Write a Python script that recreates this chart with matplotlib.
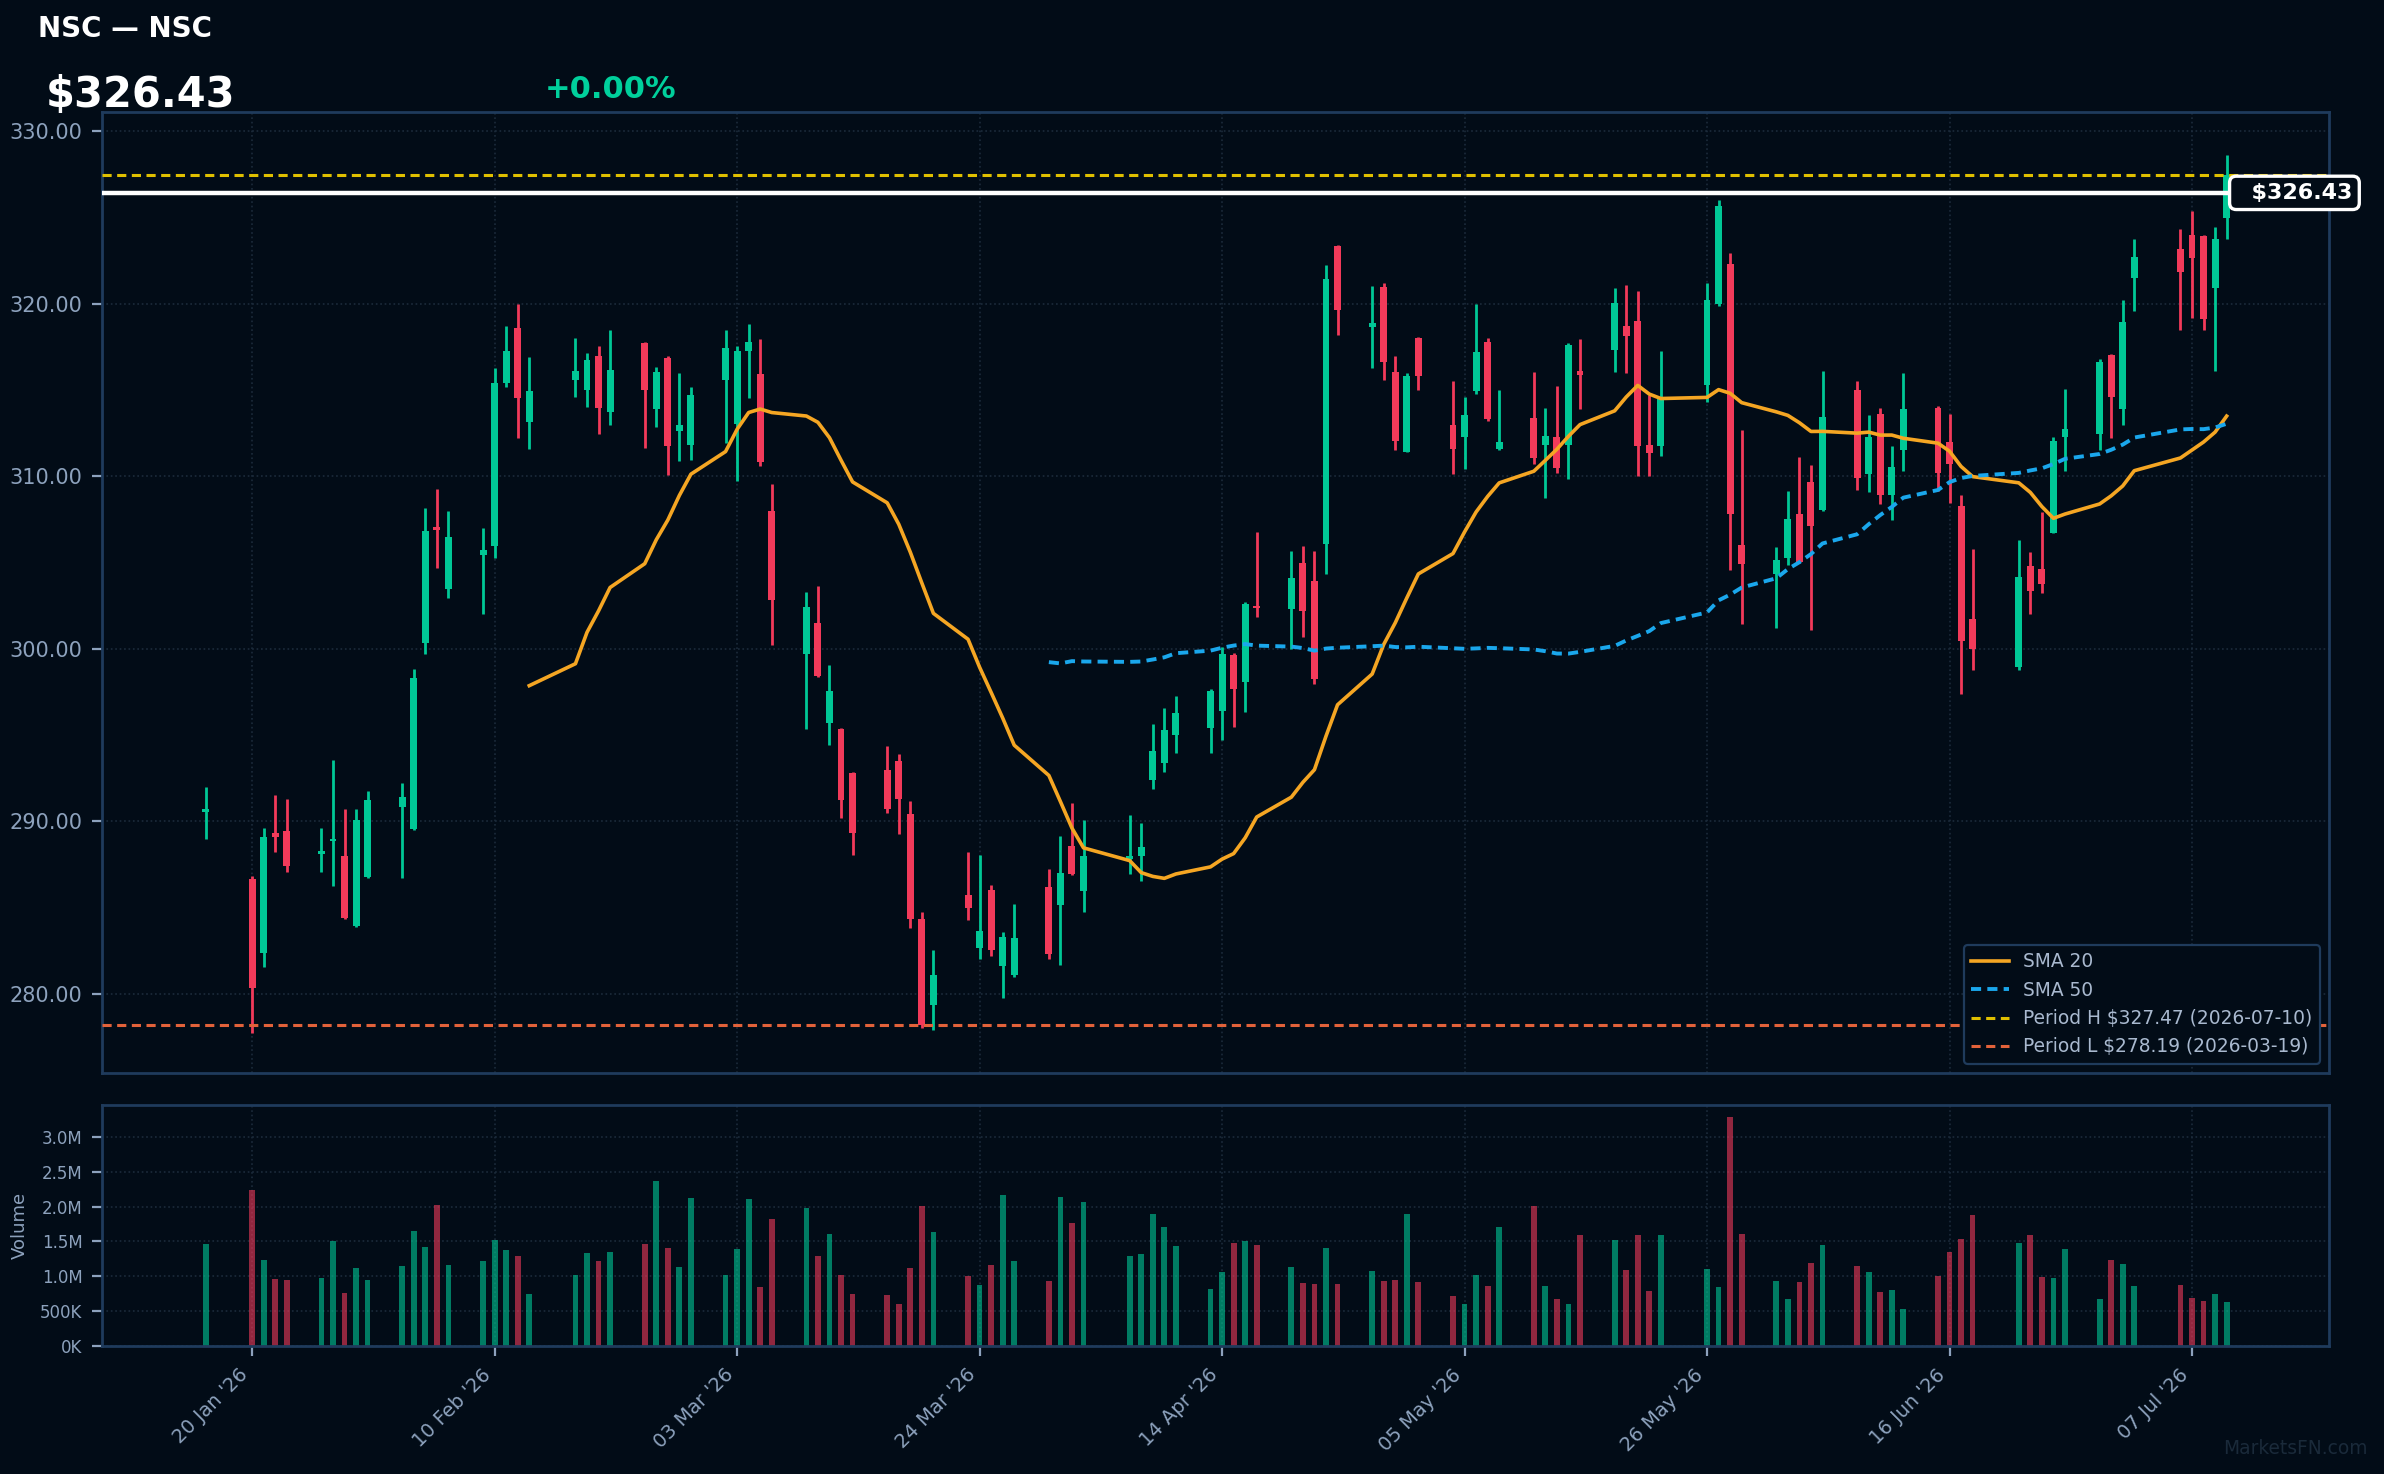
import numpy as np
import pandas as pd
import matplotlib
matplotlib.use("Agg")
import matplotlib.pyplot as plt
import matplotlib.dates as mdates
import matplotlib.transforms as mtransforms
from matplotlib.ticker import FuncFormatter

# 交易日 (NYSE 日历, 2026-01-16 ~ 2026-07-10)
holidays = ["2026-01-19", "2026-02-16", "2026-04-03", "2026-05-25", "2026-06-19", "2026-07-03"]
dates = pd.bdate_range("2026-01-16", "2026-07-10", freq="C", holidays=holidays)

opens = [290.55, 286.66, 282.39, 289.31, 289.43, 288.10, 288.85, 287.98, 283.95, 286.77,
         290.81, 289.57, 300.33, 307.05, 303.44, 305.46, 305.95, 315.38, 318.61, 313.16,
         315.61, 314.98, 316.97, 313.74, 317.72, 313.88, 316.85, 312.64, 311.84, 315.61,
         313.02, 317.29, 315.93, 308.00, 299.69, 301.48, 295.71, 295.34, 292.80, 292.97,
         293.49, 290.43, 284.32, 279.33, 285.73, 282.68, 286.02, 281.64, 281.12, 286.20,
         285.13, 288.56, 285.99, 287.84, 288.01, 292.37, 293.40, 295.02, 295.42, 296.38,
         299.63, 298.05, 302.49, 302.29, 305.00, 303.93, 306.09, 323.35, 318.67, 320.98,
         316.05, 311.42, 318.03, 312.97, 312.30, 314.96, 317.78, 311.61, 313.39, 311.84,
         312.28, 311.84, 316.10, 317.34, 318.71, 319.00, 311.81, 311.77, 315.28, 319.98,
         322.31, 306.02, 304.34, 305.29, 307.80, 309.66, 308.02, 315.01, 310.15, 313.61,
         308.91, 311.55, 313.97, 311.99, 308.29, 301.72, 298.97, 304.80, 304.63, 306.73,
         312.28, 312.46, 317.03, 313.90, 321.49, 323.15, 323.99, 323.93, 320.89, 324.96]
highs = [292.02, 286.83, 289.60, 291.53, 291.30, 289.60, 293.55, 290.72, 290.72, 291.76,
         292.25, 298.83, 308.17, 309.27, 308.00, 306.99, 316.28, 318.73, 320.00, 316.91,
         318.00, 317.14, 317.54, 318.47, 317.77, 316.33, 316.97, 315.99, 315.18, 318.47,
         317.54, 318.84, 317.95, 309.56, 303.30, 303.64, 299.06, 295.40, 292.86, 294.36,
         293.89, 291.18, 284.75, 282.53, 288.21, 288.04, 286.31, 283.57, 285.22, 287.23,
         289.14, 291.07, 290.06, 290.38, 289.89, 295.63, 296.58, 297.27, 297.67, 300.12,
         299.75, 302.72, 306.76, 305.66, 305.98, 305.66, 322.25, 323.41, 321.04, 321.20,
         316.98, 315.99, 318.07, 315.52, 314.61, 320.00, 318.03, 315.03, 316.05, 313.97,
         315.23, 317.74, 317.96, 320.91, 321.09, 320.76, 314.72, 317.27, 321.20, 326.01,
         322.97, 312.66, 305.89, 309.15, 311.13, 310.68, 316.10, 315.52, 313.55, 313.94,
         311.77, 315.99, 314.08, 313.61, 308.89, 305.78, 306.29, 305.62, 307.93, 312.28,
         315.05, 316.81, 317.09, 320.22, 323.75, 324.33, 325.37, 323.99, 324.48, 328.63]
lows = [288.99, 277.74, 281.58, 288.21, 287.06, 287.06, 286.25, 284.32, 283.90, 286.70,
        286.69, 289.50, 299.69, 304.71, 302.92, 302.00, 305.29, 315.18, 312.21, 311.57,
        314.60, 314.03, 312.44, 312.96, 311.63, 312.87, 310.10, 310.91, 310.97, 311.95,
        309.70, 314.52, 310.57, 300.24, 295.37, 298.37, 294.44, 290.17, 288.04, 290.46,
        289.28, 283.83, 278.03, 277.89, 284.26, 282.01, 282.22, 279.76, 280.95, 282.04,
        281.70, 286.90, 284.75, 286.92, 286.57, 291.85, 292.89, 293.98, 293.98, 294.70,
        295.48, 296.35, 301.86, 299.98, 300.70, 297.99, 304.36, 318.19, 316.25, 315.61,
        311.55, 311.40, 315.01, 310.13, 310.40, 314.79, 313.23, 311.55, 310.73, 308.77,
        310.22, 309.82, 313.92, 316.07, 316.01, 310.04, 310.04, 311.15, 314.28, 319.90,
        304.58, 301.45, 301.23, 304.85, 305.00, 301.12, 308.00, 309.22, 309.11, 308.40,
        307.44, 310.33, 309.17, 308.46, 297.39, 298.79, 298.79, 302.01, 303.25, 306.70,
        310.33, 311.55, 312.24, 312.95, 319.56, 318.49, 319.20, 318.49, 316.10, 323.76]
closes = [290.65, 280.37, 289.08, 289.08, 287.41, 288.27, 288.93, 284.41, 290.09, 291.24,
          291.44, 298.31, 306.82, 306.87, 306.47, 305.72, 315.41, 317.26, 314.52, 314.95,
          316.10, 316.74, 313.97, 316.19, 314.98, 316.05, 311.78, 312.96, 314.72, 317.43,
          317.26, 317.77, 310.85, 302.81, 302.43, 298.42, 297.56, 291.21, 289.34, 290.69,
          291.27, 284.35, 278.19, 281.09, 284.95, 283.63, 282.56, 283.28, 283.23, 282.33,
          287.00, 286.97, 287.98, 288.01, 288.50, 294.07, 295.28, 296.29, 297.56, 299.69,
          297.67, 302.61, 302.35, 304.08, 302.17, 298.28, 321.44, 319.64, 318.90, 316.65,
          312.06, 315.81, 315.81, 311.61, 313.54, 317.21, 313.32, 311.97, 311.08, 312.35,
          310.51, 317.61, 315.90, 320.05, 318.16, 311.77, 311.37, 314.50, 320.20, 325.66,
          307.84, 304.94, 305.14, 307.51, 305.03, 307.11, 313.43, 309.88, 312.28, 308.89,
          310.55, 313.90, 310.22, 310.73, 300.48, 300.01, 304.16, 303.38, 303.78, 312.06,
          312.77, 316.63, 314.57, 318.96, 322.71, 321.87, 322.66, 319.14, 323.75, 327.47]
volumes_m = [1.46, 2.24, 1.23, 0.96, 0.94, 0.97, 1.50, 0.76, 1.12, 0.94,
             1.15, 1.65, 1.42, 2.02, 1.16, 1.22, 1.52, 1.38, 1.29, 0.74,
             1.02, 1.33, 1.22, 1.35, 1.46, 2.37, 1.40, 1.13, 2.12, 1.02,
             1.39, 2.11, 0.84, 1.82, 1.98, 1.29, 1.61, 1.02, 0.74, 0.73,
             0.60, 1.12, 2.01, 1.63, 1.00, 0.87, 1.16, 2.17, 1.22, 0.93,
             2.14, 1.76, 2.07, 1.29, 1.32, 1.89, 1.71, 1.43, 0.82, 1.06,
             1.48, 1.51, 1.45, 1.13, 0.90, 0.89, 1.40, 0.89, 1.07, 0.93,
             0.94, 1.89, 0.92, 0.71, 0.60, 1.02, 0.86, 1.71, 2.01, 0.86,
             0.67, 0.60, 1.59, 1.52, 1.09, 1.59, 0.79, 1.59, 1.10, 0.84,
             3.29, 1.61, 0.93, 0.67, 0.92, 1.19, 1.45, 1.15, 1.06, 0.77,
             0.80, 0.53, 1.00, 1.35, 1.53, 1.88, 1.48, 1.59, 0.99, 0.97,
             1.39, 0.67, 1.23, 1.17, 0.86, 0.87, 0.69, 0.64, 0.74, 0.63]

last_price = 326.43
period_high, period_high_date = 327.47, "2026-07-10"
period_low, period_low_date = 278.19, "2026-03-19"
ticker = "NSC"

BG = "#020c17"
UP = "#00c896"
DOWN = "#f23a5a"
SPINE = "#1f3b5c"
TXT = "#8da2bd"
GRID = "#1c2b3b"

df = pd.DataFrame({"open": opens, "high": highs, "low": lows, "close": closes,
                   "volume": np.array(volumes_m) * 1e6}, index=dates)
df["sma20"] = df["close"].rolling(20).mean()
df["sma50"] = df["close"].rolling(50).mean()

x = mdates.date2num(df.index.to_pydatetime())
up = df["close"].values >= df["open"].values
colors = np.where(up, UP, DOWN)

fig = plt.figure(figsize=(11.92, 7.37), dpi=200, facecolor=BG)
ax = fig.add_axes([0.0428, 0.2720, 0.9343, 0.6517], facecolor=BG)
axv = fig.add_axes([0.0428, 0.0870, 0.9343, 0.1635], facecolor=BG, sharex=ax)

# 蜡烛图
ax.vlines(x, df["low"], df["high"], colors=colors, linewidth=1.0, zorder=2)
body_lo = np.minimum(df["open"], df["close"])
body_h = np.maximum(np.abs(df["close"] - df["open"]), 0.15)
ax.bar(x, body_h, bottom=body_lo, width=0.6, color=colors, linewidth=0, zorder=3)

ax.plot(x, df["sma20"], color="#f5a623", lw=1.3, label="SMA 20", zorder=4)
ax.plot(x, df["sma50"], color="#1aa7ec", lw=1.4, ls=(0, (2.6, 1.6)), label="SMA 50", zorder=4)
ax.axhline(period_high, color="#e0c000", lw=1.1, ls=(0, (3, 1.8)),
           label=f"Period H ${period_high:.2f} ({period_high_date})", zorder=4)
ax.axhline(period_low, color="#e2623a", lw=1.1, ls=(0, (3, 1.8)),
           label=f"Period L ${period_low:.2f} ({period_low_date})", zorder=4)
ax.axhline(last_price, color="white", lw=1.6, zorder=5)

trans = mtransforms.blended_transform_factory(ax.transAxes, ax.transData)
ax.text(0.9843, last_price, f"  ${last_price:.2f}", transform=trans, ha="center", va="center",
        fontsize=8, fontweight="bold", color="white", clip_on=False, zorder=10,
        bbox=dict(boxstyle="round,pad=0.3", fc=BG, ec="white", lw=1.2))

# 成交量
axv.bar(x, df["volume"], width=0.5, color=colors, alpha=0.6, linewidth=0)

start = df.index[0] - pd.Timedelta(days=9)
end = df.index[-1] + pd.Timedelta(days=8.9)
ax.set_xlim(mdates.date2num(start), mdates.date2num(end))
ax.set_ylim(275.41, 331.09)
axv.set_ylim(0, 3.465e6)

ticks = pd.date_range("2026-01-20", "2026-07-10", freq="21D")
axv.set_xticks(mdates.date2num(ticks.to_pydatetime()))
axv.xaxis.set_major_formatter(mdates.DateFormatter("%d %b '%y"))
plt.setp(axv.get_xticklabels(), rotation=45, ha="right")

ax.set_yticks([280, 290, 300, 310, 320, 330])
ax.yaxis.set_major_formatter(FuncFormatter(lambda v, p: f"{v:.2f}"))
axv.set_yticks(np.arange(0, 3.01e6, 0.5e6))
axv.yaxis.set_major_formatter(FuncFormatter(
    lambda v, p: f"{v/1e6:.1f}M" if v >= 1e6 else f"{v/1e3:.0f}K"))
axv.set_ylabel("Volume", color=TXT, fontsize=6.5)

ax.tick_params(axis="x", bottom=False, labelbottom=False)
ax.tick_params(axis="y", colors=TXT, labelsize=7.5)
axv.tick_params(axis="y", colors=TXT, labelsize=6)
axv.tick_params(axis="x", colors=TXT, labelsize=7)

for a in (ax, axv):
    a.grid(True, color=GRID, ls=":", lw=0.6)
    a.set_axisbelow(True)
    for s in a.spines.values():
        s.set_color(SPINE)
        s.set_linewidth(1.0)

leg = ax.legend(loc="lower right", fontsize=6.7, facecolor=BG, edgecolor=SPINE,
                labelcolor="#a9b9cf", framealpha=1)
leg.get_frame().set_linewidth(0.8)

# 标题
fig.text(0.016, 0.9751, f"{ticker} — {ticker}", color="white", fontsize=10,
         fontweight="bold", va="baseline")
fig.text(0.019, 0.9274, f"${last_price:.2f}", color="white", fontsize=15,
         fontweight="bold", va="baseline")
fig.text(0.2286, 0.9337, "+0.00%", color="#00d09c", fontsize=11,
         fontweight="bold", va="baseline")
fig.text(0.9933, 0.0176, "MarketsFN.com", color="#1a2a3a", fontsize=6.7,
         ha="right", va="center")

fig.savefig("out.png", dpi=200, facecolor=BG)
